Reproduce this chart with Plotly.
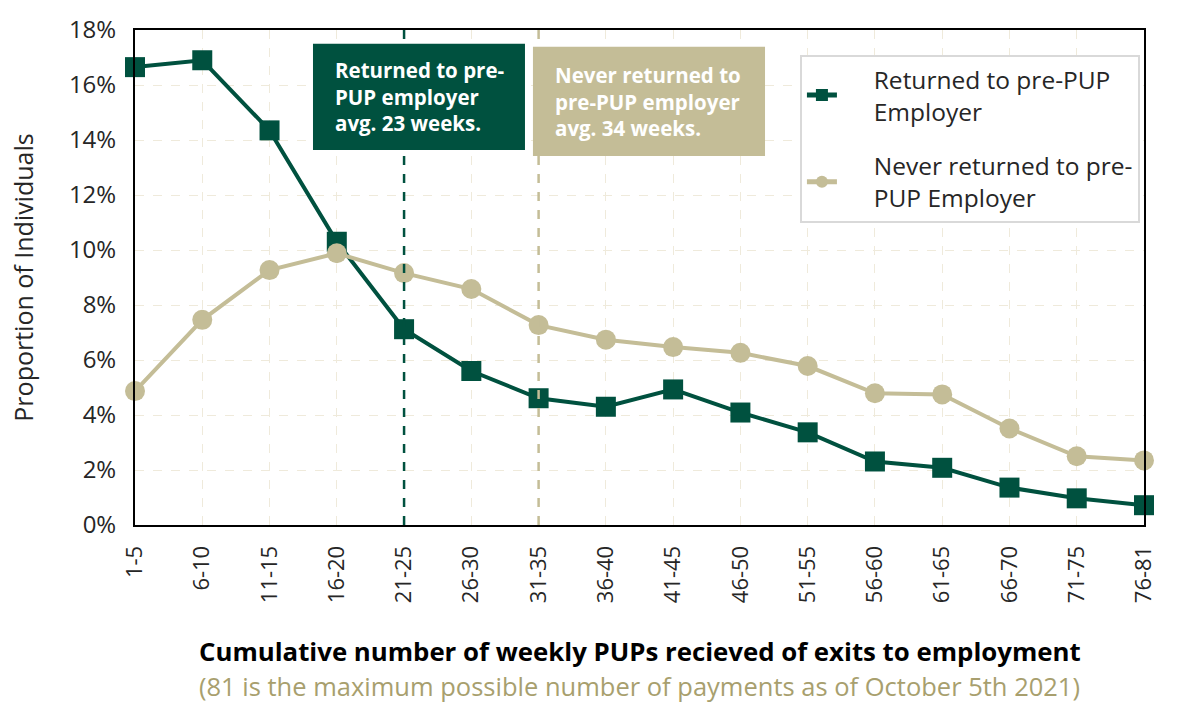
import plotly.graph_objects as go

categories = ["1-5", "6-10", "11-15", "16-20", "21-25", "26-30", "31-35", "36-40",
              "41-45", "46-50", "51-55", "56-60", "61-65", "66-70", "71-75", "76-81"]
returned = [16.65, 16.9, 14.35, 10.3, 7.12, 5.6, 4.61, 4.3, 4.93, 4.09, 3.37, 2.31, 2.08, 1.36, 0.97, 0.72]
never_returned = [4.87, 7.46, 9.27, 9.88, 9.16, 8.58, 7.27, 6.74, 6.47, 6.26, 5.78, 4.79, 4.75, 3.51, 2.5, 2.35]
returned_avg_cat = "21-25"
never_avg_cat = "31-35"
y_ticks = [0, 2, 4, 6, 8, 10, 12, 14, 16, 18]
y_ticktext = [f"{v}%" for v in y_ticks]

GREEN = "#00513F"
TAN = "#C4BD97"
FONT = "Open Sans"

xi = list(range(len(categories)))
pad = "&nbsp;" * 5

fig = go.Figure()
fig.add_trace(go.Scatter(
    x=xi, y=returned, mode="lines+markers",
    name=f"{pad}Returned to pre-PUP<br>{pad}Employer",
    legendgroup="a",
    line=dict(color=GREEN, width=4), marker=dict(symbol="square", size=20, color=GREEN),
    cliponaxis=False))
fig.add_trace(go.Scatter(
    x=xi, y=never_returned, mode="lines+markers",
    name=f"{pad}Never returned to pre-<br>{pad}PUP Employer",
    legendgroup="b",
    line=dict(color=TAN, width=4), marker=dict(symbol="circle", size=20, color=TAN),
    cliponaxis=False))

gx = categories.index(returned_avg_cat)
tx = categories.index(never_avg_cat)
fig.add_shape(type="line", x0=gx, x1=gx, y0=0, y1=18, xref="x", yref="y",
              line=dict(color=GREEN, width=2.5, dash="dash"), layer="above")
fig.add_shape(type="line", x0=tx, x1=tx, y0=0, y1=18, xref="x", yref="y",
              line=dict(color=TAN, width=2.5, dash="dash"), layer="above")

# annotation boxes
fig.add_shape(type="rect", xref="paper", yref="paper", x0=0.1764, x1=0.3865, y0=0.7575, y1=0.972,
              fillcolor=GREEN, line=dict(width=0), layer="above")
fig.add_shape(type="rect", xref="paper", yref="paper", x0=0.3944, x1=0.6244, y0=0.7455, y1=0.966,
              fillcolor=TAN, line=dict(width=0), layer="above")

fig.add_annotation(x=0.196, y=0.8647, xref="paper", yref="paper", xanchor="left", yanchor="middle",
                   text="<b>Returned to pre-<br>PUP employer<br>avg. 23 weeks.</b>",
                   showarrow=False, align="left",
                   font=dict(family=FONT, size=20.5, color="white"))
fig.add_annotation(x=0.414, y=0.8557, xref="paper", yref="paper", xanchor="left", yanchor="middle",
                   text="<b>Never returned to<br>pre-PUP employer<br>avg. 34 weeks.</b>",
                   showarrow=False, align="left",
                   font=dict(family=FONT, size=20.5, color="white"))

fig.add_annotation(x=0.5, y=-0.2545, xref="paper", yref="paper", xanchor="center", yanchor="middle",
                   text="<b>Cumulative number of weekly PUPs recieved of exits to employment</b>",
                   showarrow=False, font=dict(family=FONT, size=25.8, color="black"))
fig.add_annotation(x=0.5, y=-0.3247, xref="paper", yref="paper", xanchor="center", yanchor="middle",
                   text="(81 is the maximum possible number of payments as of October 5th 2021)",
                   showarrow=False, font=dict(family=FONT, size=25.5, color="#A89F6E"))

fig.update_layout(
    width=1178, height=704,
    margin=dict(l=135, r=34, t=26, b=179),
    plot_bgcolor="white", paper_bgcolor="white",
    font=dict(family=FONT, size=20, color="#262626"),
    showlegend=True,
    legend=dict(x=0.659, y=0.95, xanchor="left", yanchor="top",
                bgcolor="white", bordercolor="#D9D9D9", borderwidth=2,
                font=dict(family=FONT, size=24.5, color="#262626"),
                tracegroupgap=20, itemsizing="constant"),
    xaxis=dict(range=[0, len(categories) - 1], tickmode="array", tickvals=xi, ticktext=categories,
               tickangle=-90, showgrid=True, gridcolor="#EFEADB", griddash="dash", gridwidth=1,
               showline=True, linecolor="black", linewidth=2, mirror=True, zeroline=False,
               ticks="", ticklabelstandoff=10, tickfont=dict(size=22)),
    yaxis=dict(range=[0, 18], tickmode="array", tickvals=y_ticks, ticktext=y_ticktext,
               showgrid=True, gridcolor="#EFEADB", griddash="dash", gridwidth=1,
               showline=True, linecolor="black", linewidth=2, mirror=True, zeroline=False,
               ticks="", ticklabelstandoff=12, tickfont=dict(size=24),
               title=dict(text="Proportion of Individuals", font=dict(size=25), standoff=28)),
)

fig.write_html("out.html", config={"displayModeBar": False},
               post_script="document.body.style.margin='0px';")
